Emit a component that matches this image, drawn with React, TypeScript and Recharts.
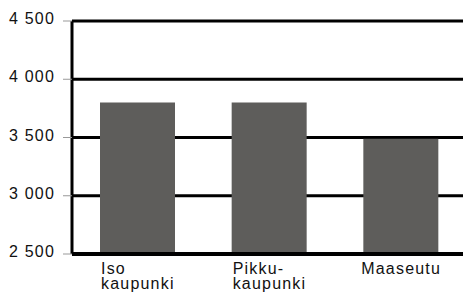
import { BarChart, Bar, XAxis, YAxis, CartesianGrid } from "recharts";

const categories = ["Iso\nkaupunki", "Pikku-\nkaupunki", "Maaseutu"];
const values = [3800, 3800, 3490];
const yTicks = [2500, 3000, 3500, 4000, 4500];

const data = categories.map((name, i) => ({ name, value: values[i] }));

const FONT = "'Liberation Sans', Arial, Helvetica, sans-serif";
const SPACING = 1.2;

function textWidth(s: string) {
  const ctx = document.createElement("canvas").getContext("2d");
  if (!ctx) return s.length * 9;
  ctx.font = `16px ${FONT}`;
  return ctx.measureText(s).width + SPACING * s.length;
}

function fmt(v: number) {
  return String(v).replace(/\B(?=(\d{3})+(?!\d))/g, " ");
}

function XTick(props: any) {
  const { x, y, payload } = props;
  const lines = String(payload.value).split("\n");
  const w = Math.max(...lines.map(textWidth));
  const left = x - w / 2;
  return (
    <text x={left} y={y} fontSize={16} fontFamily={FONT} letterSpacing={SPACING} fill="#111" textAnchor="start">
      {lines.map((l, i) => (
        <tspan key={i} x={left} y={y + 20 + i * 15}>{l}</tspan>
      ))}
    </text>
  );
}

function YTick(props: any) {
  const { x, y, payload } = props;
  return (
    <text x={x} y={y + 3} fontSize={16} fontFamily={FONT} letterSpacing={SPACING} fill="#111" textAnchor="end">
      {fmt(payload.value)}
    </text>
  );
}

export default function App() {
  return (
    <div style={{ position: "absolute", left: 0, top: 0, width: 463, height: 293, overflow: "hidden", background: "#fff" }}>
      <BarChart width={467} height={293} data={data} margin={{ top: 21, right: 0, left: 0, bottom: 0 }}>
        <CartesianGrid vertical={false} stroke="#000" strokeWidth={3} />
        <XAxis
          dataKey="name"
          axisLine={{ stroke: "#000", strokeWidth: 4 }}
          tickLine={false}
          tickSize={0}
          tickMargin={0}
          interval={0}
          tick={<XTick />}
          height={39}
        />
        <YAxis
          domain={[2500, 4500]}
          ticks={yTicks}
          width={72}
          axisLine={{ stroke: "#000", strokeWidth: 3 }}
          tickLine={{ stroke: "#999", strokeWidth: 1 }}
          tickSize={9}
          tickMargin={8}
          allowDataOverflow
          tick={<YTick />}
        />
        <Bar dataKey="value" fill="#5e5d5b" barSize={75} isAnimationActive={false} />
      </BarChart>
    </div>
  );
}
